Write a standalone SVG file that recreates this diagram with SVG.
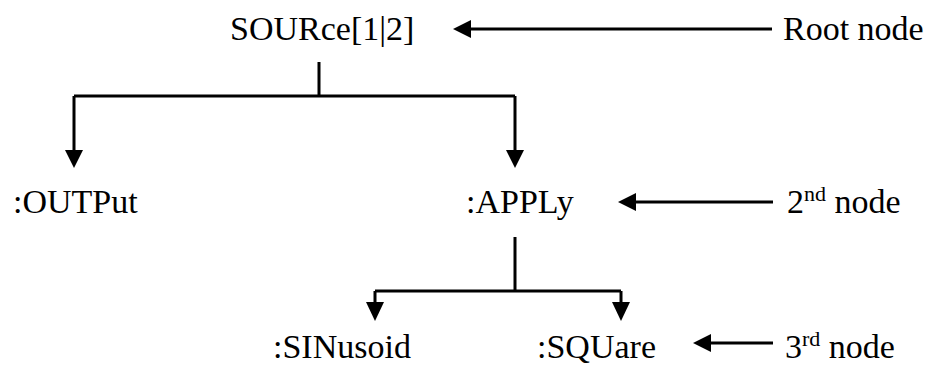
<svg xmlns="http://www.w3.org/2000/svg" width="941" height="368" viewBox="0 0 941 368">
<style>
text{font-family:"Liberation Serif",Tinos,"Times New Roman",serif;font-size:34px;fill:#000}
.sup{font-size:22px}
.ln{stroke:#000;stroke-width:3;fill:none}
.hd{fill:#000}
</style>
<rect width="941" height="368" fill="#fff"/>
<g id="connectors">
<path class="ln" d="M319,62V96M74,96H515M74,96V152M515,96V152"/>
<polygon class="hd" points="65,150 83,150 74,168"/>
<polygon class="hd" points="506,150 524,150 515,168"/>
<path class="ln" d="M515,237V291M375,291H621M375,291V305M621,291V305"/>
<polygon class="hd" points="366,302 384,302 375,321"/>
<polygon class="hd" points="612,302 630,302 621,321"/>
<path class="ln" d="M468,29H772"/>
<polygon class="hd" points="453,29 471,20 471,38"/>
<path class="ln" d="M633,202H773"/>
<polygon class="hd" points="618,202 636,193 636,211"/>
<path class="ln" d="M708,343H773"/>
<polygon class="hd" points="693,343 711,334 711,352"/>
</g>
<g font-family="Liberation Serif, serif">
<g id="node-source"><text x="230" y="40">SOURce[1|2]</text></g>
<g id="node-output"><text x="13" y="213">:OUTPut</text></g>
<g id="node-apply"><text x="466" y="213">:APPLy</text></g>
<g id="node-sinusoid"><text x="273" y="358">:SINusoid</text></g>
<g id="node-square"><text x="537" y="358">:SQUare</text></g>
<g id="label-root"><text x="783" y="40">Root node</text></g>
<g id="label-2nd"><text x="787" y="213">2<tspan class="sup" dy="-12">nd</tspan><tspan dy="12"> node</tspan></text></g>
<g id="label-3rd"><text x="785" y="358">3<tspan class="sup" dy="-12">rd</tspan><tspan dy="12"> node</tspan></text></g>
</g>
</svg>
